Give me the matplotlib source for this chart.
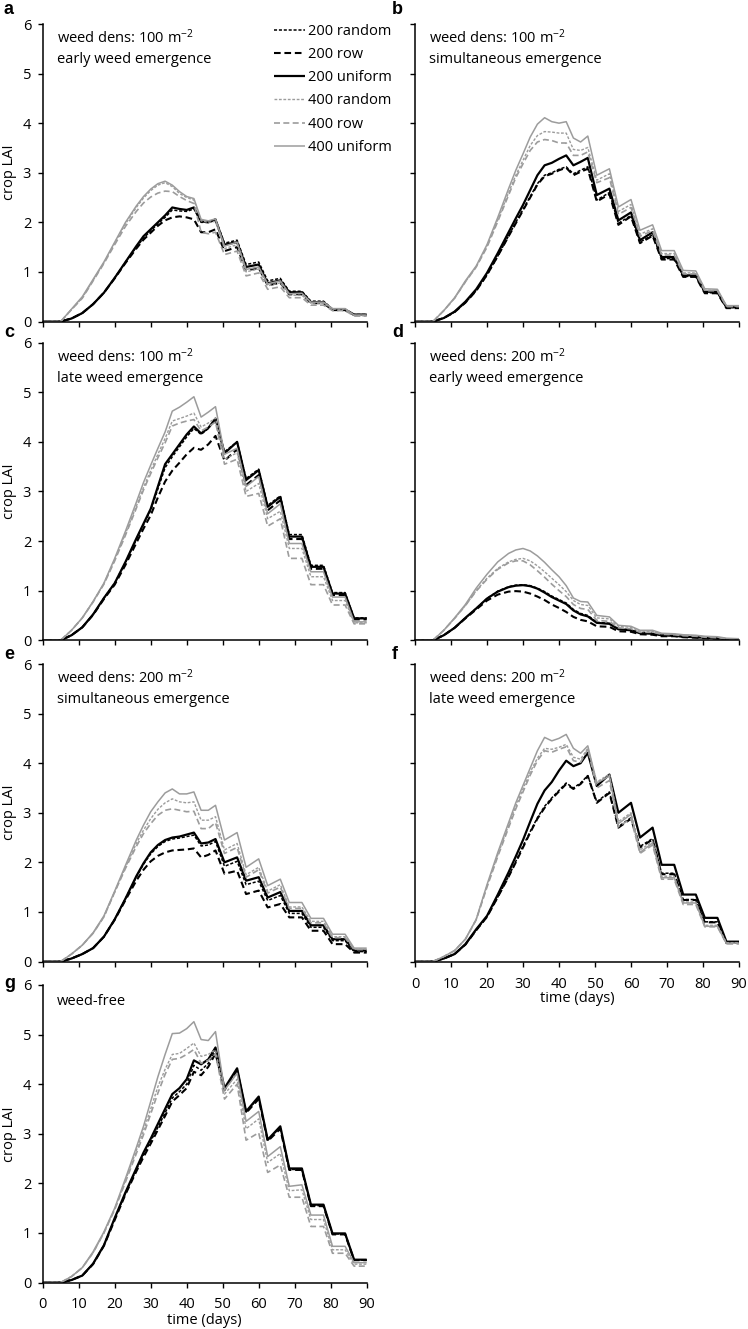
import matplotlib
matplotlib.use("Agg")
import matplotlib.pyplot as plt

plt.rcParams["font.family"] = ["Open Sans", "DejaVu Sans"]
plt.rcParams["mathtext.fontset"] = "custom"
plt.rcParams["mathtext.rm"] = "Open Sans"
plt.rcParams["mathtext.default"] = "regular"

# time axis shared by every series (days)
DAYS = [0, 5, 8, 11, 14, 17, 20, 23,
        26, 28, 30, 32, 34, 36, 38, 40, 42, 44, 46, 48,
        50.5, 54, 56.5, 60, 62.5, 66, 68.5, 72, 74.5, 78, 80.5, 84, 86.5, 90]

SERIES = ["200 random", "200 row", "200 uniform", "400 random", "400 row", "400 uniform"]

# a: weed dens 100, early emergence
A_RAND200 = [0, 0, 0.06, 0.17, 0.35, 0.58, 0.88, 1.2, 1.5, 1.68, 1.83, 1.97, 2.1, 2.25, 2.23, 2.22, 2.27, 2.0, 2.0, 2.07,
             1.58, 1.64, 1.15, 1.2, 0.82, 0.87, 0.61, 0.61, 0.41, 0.41, 0.25, 0.25, 0.14, 0.14]
A_ROW200 = [0, 0, 0.06, 0.17, 0.35, 0.58, 0.87, 1.18, 1.47, 1.65, 1.79, 1.93, 2.04, 2.1, 2.12, 2.1, 2.06, 1.8, 1.8, 1.86,
            1.42, 1.5, 1.03, 1.08, 0.73, 0.78, 0.55, 0.55, 0.37, 0.37, 0.23, 0.23, 0.13, 0.13]
A_UNI200 = [0, 0, 0.06, 0.17, 0.35, 0.58, 0.88, 1.2, 1.52, 1.72, 1.86, 2.0, 2.14, 2.3, 2.27, 2.25, 2.3, 2.02, 2.0, 2.05,
            1.55, 1.6, 1.1, 1.15, 0.77, 0.83, 0.59, 0.59, 0.39, 0.39, 0.24, 0.24, 0.14, 0.14]
A_RAND400 = [0, 0, 0.24, 0.48, 0.83, 1.18, 1.58, 1.97, 2.3, 2.49, 2.64, 2.75, 2.8, 2.72, 2.58, 2.5, 2.45, 2.03, 2.0, 2.02,
             1.47, 1.55, 1.0, 1.06, 0.72, 0.78, 0.53, 0.53, 0.37, 0.37, 0.25, 0.25, 0.12, 0.12]
A_ROW400 = [0, 0, 0.24, 0.47, 0.82, 1.17, 1.55, 1.92, 2.22, 2.39, 2.51, 2.59, 2.63, 2.62, 2.52, 2.44, 2.38, 1.8, 1.77, 1.8,
            1.35, 1.42, 0.92, 0.98, 0.65, 0.7, 0.48, 0.48, 0.33, 0.33, 0.22, 0.22, 0.11, 0.11]
A_UNI400 = [0, 0, 0.25, 0.5, 0.85, 1.2, 1.6, 2.0, 2.33, 2.52, 2.67, 2.78, 2.83, 2.75, 2.62, 2.52, 2.48, 2.06, 2.03, 2.07,
            1.52, 1.6, 1.05, 1.1, 0.76, 0.82, 0.56, 0.57, 0.39, 0.39, 0.26, 0.26, 0.13, 0.13]

# b: weed dens 100, simultaneous emergence
B_RAND200 = [0, 0, 0.07, 0.19, 0.38, 0.62, 0.94, 1.32, 1.73, 2.0, 2.26, 2.52, 2.78, 2.95, 3.0, 3.07, 3.12, 2.98, 3.05, 3.12,
             2.45, 2.6, 1.98, 2.14, 1.6, 1.75, 1.27, 1.27, 0.91, 0.91, 0.58, 0.58, 0.28, 0.28]
B_ROW200 = [0, 0, 0.07, 0.19, 0.38, 0.62, 0.94, 1.32, 1.72, 1.98, 2.24, 2.5, 2.76, 2.93, 2.98, 3.05, 3.1, 2.95, 3.02, 3.08,
            2.42, 2.57, 1.95, 2.12, 1.58, 1.73, 1.25, 1.25, 0.9, 0.9, 0.57, 0.57, 0.27, 0.27]
B_UNI200 = [0, 0, 0.07, 0.2, 0.4, 0.65, 0.98, 1.38, 1.8, 2.08, 2.35, 2.65, 2.95, 3.15, 3.2, 3.28, 3.35, 3.15, 3.22, 3.3,
            2.55, 2.68, 2.04, 2.2, 1.64, 1.8, 1.3, 1.3, 0.93, 0.93, 0.6, 0.6, 0.29, 0.29]
B_RAND400 = [0, 0, 0.22, 0.47, 0.8, 1.1, 1.52, 2.05, 2.6, 2.95, 3.25, 3.55, 3.75, 3.83, 3.82, 3.8, 3.8, 3.47, 3.45, 3.51,
             2.85, 2.98, 2.22, 2.36, 1.76, 1.87, 1.37, 1.37, 0.98, 0.98, 0.63, 0.63, 0.31, 0.31]
B_ROW400 = [0, 0, 0.22, 0.47, 0.8, 1.1, 1.5, 2.02, 2.55, 2.9, 3.18, 3.45, 3.62, 3.67, 3.65, 3.6, 3.6, 3.35, 3.35, 3.42,
            2.8, 2.9, 2.16, 2.3, 1.72, 1.83, 1.34, 1.34, 0.96, 0.96, 0.62, 0.62, 0.3, 0.3]
B_UNI400 = [0, 0, 0.22, 0.48, 0.82, 1.12, 1.55, 2.1, 2.68, 3.05, 3.38, 3.72, 3.98, 4.11, 4.03, 4.0, 4.03, 3.7, 3.62, 3.74,
            2.95, 3.08, 2.31, 2.46, 1.84, 1.95, 1.43, 1.43, 1.03, 1.02, 0.66, 0.65, 0.32, 0.32]

# c: weed dens 100, late emergence
C_RAND200 = [0, 0, 0.1, 0.26, 0.52, 0.85, 1.15, 1.57, 2.03, 2.33, 2.62, 3.05, 3.48, 3.7, 3.9, 4.1, 4.27, 4.15, 4.27, 4.45,
             3.8, 4.0, 3.26, 3.45, 2.72, 2.91, 2.13, 2.13, 1.51, 1.51, 0.96, 0.96, 0.45, 0.45]
C_ROW200 = [0, 0, 0.1, 0.26, 0.51, 0.83, 1.12, 1.52, 1.96, 2.25, 2.52, 2.88, 3.2, 3.42, 3.58, 3.75, 3.88, 3.84, 3.95, 4.12,
            3.62, 3.85, 3.13, 3.33, 2.62, 2.82, 2.04, 2.04, 1.44, 1.44, 0.91, 0.91, 0.42, 0.42]
C_UNI200 = [0, 0, 0.1, 0.26, 0.52, 0.85, 1.15, 1.58, 2.05, 2.35, 2.65, 3.1, 3.55, 3.75, 3.95, 4.15, 4.31, 4.17, 4.28, 4.47,
            3.77, 4.0, 3.23, 3.43, 2.69, 2.89, 2.09, 2.09, 1.48, 1.48, 0.94, 0.94, 0.44, 0.44]
C_RAND400 = [0, 0, 0.2, 0.45, 0.78, 1.14, 1.62, 2.15, 2.7, 3.08, 3.42, 3.75, 4.07, 4.42, 4.47, 4.52, 4.58, 4.3, 4.38, 4.48,
             3.65, 3.78, 3.0, 3.16, 2.45, 2.6, 1.85, 1.85, 1.28, 1.28, 0.8, 0.8, 0.35, 0.35]
C_ROW400 = [0, 0, 0.2, 0.45, 0.77, 1.13, 1.6, 2.12, 2.66, 3.03, 3.36, 3.68, 3.98, 4.32, 4.38, 4.42, 4.45, 4.22, 4.3, 4.4,
            3.55, 3.65, 2.9, 2.96, 2.3, 2.45, 1.65, 1.65, 1.12, 1.12, 0.71, 0.71, 0.33, 0.33]
C_UNI400 = [0, 0, 0.2, 0.45, 0.78, 1.15, 1.65, 2.2, 2.78, 3.18, 3.53, 3.87, 4.2, 4.62, 4.7, 4.8, 4.91, 4.5, 4.6, 4.71,
            3.75, 3.87, 3.1, 3.3, 2.55, 2.75, 1.95, 1.95, 1.38, 1.38, 0.87, 0.87, 0.37, 0.37]

# d: weed dens 200, early emergence
D_RAND200 = [0, 0, 0.1, 0.25, 0.45, 0.64, 0.84, 0.99, 1.08, 1.11, 1.12, 1.1, 1.05, 0.98, 0.89, 0.82, 0.75, 0.62, 0.54, 0.5,
             0.36, 0.34, 0.23, 0.21, 0.15, 0.14, 0.1, 0.09, 0.07, 0.06, 0.05, 0.04, 0.02, 0.02]
D_ROW200 = [0, 0, 0.1, 0.25, 0.44, 0.62, 0.8, 0.92, 0.98, 0.99, 0.98, 0.94, 0.88, 0.81, 0.72, 0.65, 0.57, 0.47, 0.41, 0.38,
            0.28, 0.27, 0.18, 0.17, 0.12, 0.11, 0.08, 0.08, 0.06, 0.05, 0.04, 0.03, 0.02, 0.01]
D_UNI200 = [0, 0, 0.1, 0.25, 0.45, 0.64, 0.84, 0.98, 1.07, 1.1, 1.11, 1.09, 1.04, 0.96, 0.87, 0.8, 0.73, 0.6, 0.52, 0.48,
            0.35, 0.33, 0.22, 0.2, 0.14, 0.13, 0.1, 0.09, 0.07, 0.06, 0.05, 0.04, 0.02, 0.02]
D_RAND400 = [0, 0, 0.2, 0.44, 0.7, 1.0, 1.25, 1.45, 1.58, 1.63, 1.65, 1.6, 1.5, 1.38, 1.25, 1.12, 0.98, 0.8, 0.72, 0.7,
             0.45, 0.43, 0.28, 0.26, 0.18, 0.18, 0.13, 0.12, 0.1, 0.09, 0.07, 0.06, 0.03, 0.03]
D_ROW400 = [0, 0, 0.2, 0.44, 0.7, 0.99, 1.23, 1.43, 1.56, 1.6, 1.6, 1.52, 1.4, 1.27, 1.13, 1.0, 0.88, 0.72, 0.64, 0.62,
            0.4, 0.38, 0.25, 0.23, 0.16, 0.16, 0.12, 0.11, 0.09, 0.08, 0.06, 0.05, 0.03, 0.02]
D_UNI400 = [0, 0, 0.2, 0.45, 0.72, 1.05, 1.33, 1.58, 1.75, 1.82, 1.85, 1.8, 1.7, 1.57, 1.42, 1.28, 1.1, 0.85, 0.78, 0.77,
            0.5, 0.47, 0.3, 0.28, 0.2, 0.2, 0.14, 0.13, 0.11, 0.1, 0.08, 0.07, 0.04, 0.03]

# e: weed dens 200, simultaneous emergence
E_RAND200 = [0, 0, 0.06, 0.15, 0.27, 0.5, 0.85, 1.27, 1.7, 1.96, 2.17, 2.32, 2.42, 2.47, 2.49, 2.52, 2.55, 2.33, 2.35, 2.42,
             1.92, 2.02, 1.55, 1.62, 1.23, 1.33, 0.97, 0.97, 0.69, 0.69, 0.42, 0.42, 0.2, 0.2]
E_ROW200 = [0, 0, 0.06, 0.15, 0.27, 0.5, 0.84, 1.24, 1.63, 1.85, 2.02, 2.13, 2.2, 2.24, 2.25, 2.26, 2.28, 2.1, 2.15, 2.24,
            1.77, 1.83, 1.36, 1.43, 1.09, 1.16, 0.89, 0.89, 0.62, 0.62, 0.35, 0.35, 0.18, 0.18]
E_UNI200 = [0, 0, 0.06, 0.15, 0.27, 0.5, 0.85, 1.27, 1.72, 1.98, 2.2, 2.35, 2.45, 2.5, 2.52, 2.56, 2.6, 2.38, 2.4, 2.47,
            2.0, 2.1, 1.63, 1.7, 1.29, 1.4, 1.02, 1.02, 0.73, 0.73, 0.45, 0.45, 0.22, 0.22]
E_RAND400 = [0, 0, 0.15, 0.33, 0.57, 0.9, 1.4, 1.9, 2.38, 2.65, 2.88, 3.07, 3.2, 3.28, 3.22, 3.2, 3.22, 2.85, 2.85, 2.92,
             2.25, 2.38, 1.75, 1.9, 1.42, 1.55, 1.1, 1.1, 0.81, 0.81, 0.5, 0.5, 0.25, 0.25]
E_ROW400 = [0, 0, 0.15, 0.33, 0.57, 0.9, 1.4, 1.88, 2.32, 2.58, 2.78, 2.95, 3.05, 3.08, 3.05, 3.02, 3.03, 2.68, 2.68, 2.8,
            2.18, 2.3, 1.7, 1.85, 1.38, 1.5, 1.07, 1.07, 0.78, 0.78, 0.48, 0.48, 0.24, 0.24]
E_UNI400 = [0, 0, 0.15, 0.33, 0.58, 0.92, 1.42, 1.94, 2.45, 2.75, 3.02, 3.22, 3.4, 3.48, 3.38, 3.38, 3.42, 3.05, 3.05, 3.15,
            2.45, 2.6, 1.9, 2.07, 1.53, 1.66, 1.19, 1.19, 0.87, 0.87, 0.55, 0.55, 0.27, 0.27]

# f: weed dens 200, late emergence
F_RAND200 = [0, 0, 0.06, 0.15, 0.34, 0.63, 0.9, 1.3, 1.72, 2.02, 2.33, 2.62, 2.9, 3.13, 3.3, 3.45, 3.6, 3.5, 3.6, 3.75,
             3.22, 3.42, 2.72, 2.9, 2.32, 2.48, 1.78, 1.78, 1.25, 1.25, 0.8, 0.8, 0.37, 0.37]
F_ROW200 = [0, 0, 0.06, 0.15, 0.34, 0.63, 0.9, 1.3, 1.71, 2.0, 2.3, 2.6, 2.88, 3.1, 3.28, 3.43, 3.58, 3.48, 3.58, 3.74,
            3.2, 3.4, 2.7, 2.88, 2.3, 2.46, 1.76, 1.76, 1.24, 1.24, 0.79, 0.79, 0.37, 0.37]
F_UNI200 = [0, 0, 0.06, 0.15, 0.35, 0.65, 0.92, 1.35, 1.8, 2.12, 2.45, 2.82, 3.18, 3.45, 3.62, 3.85, 4.05, 3.94, 4.0, 4.21,
            3.54, 3.77, 3.0, 3.2, 2.5, 2.7, 1.95, 1.95, 1.35, 1.35, 0.88, 0.88, 0.4, 0.4]
F_RAND400 = [0, 0, 0.1, 0.22, 0.45, 0.85, 1.52, 2.15, 2.75, 3.13, 3.48, 3.82, 4.1, 4.3, 4.28, 4.32, 4.38, 4.12, 4.08, 4.3,
             3.62, 3.78, 2.82, 3.0, 2.25, 2.42, 1.72, 1.72, 1.2, 1.2, 0.73, 0.73, 0.38, 0.38]
F_ROW400 = [0, 0, 0.1, 0.22, 0.45, 0.84, 1.5, 2.12, 2.7, 3.08, 3.42, 3.76, 4.05, 4.25, 4.22, 4.28, 4.33, 4.05, 4.02, 4.28,
            3.5, 3.65, 2.72, 2.88, 2.18, 2.35, 1.66, 1.66, 1.15, 1.15, 0.7, 0.7, 0.36, 0.36]
F_UNI400 = [0, 0, 0.1, 0.22, 0.45, 0.85, 1.55, 2.2, 2.8, 3.2, 3.55, 3.9, 4.25, 4.52, 4.45, 4.5, 4.58, 4.3, 4.2, 4.35,
            3.6, 3.74, 2.78, 2.97, 2.2, 2.39, 1.69, 1.69, 1.18, 1.18, 0.71, 0.71, 0.37, 0.37]

# g: weed-free
G_RAND200 = [0, 0, 0.05, 0.14, 0.38, 0.75, 1.28, 1.8, 2.27, 2.57, 2.85, 3.13, 3.42, 3.72, 3.85, 4.0, 4.38, 4.28, 4.42, 4.68,
             3.9, 4.3, 3.44, 3.73, 2.87, 3.13, 2.28, 2.28, 1.55, 1.55, 0.98, 0.98, 0.45, 0.45]
G_ROW200 = [0, 0, 0.05, 0.14, 0.37, 0.74, 1.26, 1.78, 2.24, 2.53, 2.8, 3.08, 3.36, 3.65, 3.78, 3.92, 4.25, 4.18, 4.35, 4.62,
            3.88, 4.28, 3.42, 3.7, 2.85, 3.1, 2.27, 2.27, 1.54, 1.54, 0.97, 0.97, 0.45, 0.45]
G_UNI200 = [0, 0, 0.05, 0.14, 0.38, 0.75, 1.3, 1.82, 2.3, 2.62, 2.9, 3.2, 3.5, 3.8, 3.92, 4.1, 4.48, 4.4, 4.5, 4.74,
            3.92, 4.32, 3.45, 3.75, 2.88, 3.15, 2.3, 2.3, 1.57, 1.57, 0.99, 0.99, 0.46, 0.46]
G_RAND400 = [0, 0, 0.12, 0.3, 0.6, 1.0, 1.48, 2.06, 2.66, 3.06, 3.5, 3.95, 4.3, 4.6, 4.62, 4.72, 4.83, 4.56, 4.6, 4.69,
             3.8, 4.1, 3.1, 3.3, 2.42, 2.6, 1.85, 1.87, 1.27, 1.27, 0.66, 0.66, 0.37, 0.37]
G_ROW400 = [0, 0, 0.12, 0.3, 0.6, 1.0, 1.47, 2.03, 2.6, 2.98, 3.4, 3.82, 4.2, 4.5, 4.52, 4.6, 4.7, 4.42, 4.48, 4.61,
            3.7, 4.0, 2.87, 3.02, 2.22, 2.37, 1.72, 1.72, 1.13, 1.13, 0.59, 0.59, 0.33, 0.33]
G_UNI400 = [0, 0, 0.12, 0.3, 0.62, 1.02, 1.5, 2.1, 2.72, 3.15, 3.65, 4.15, 4.6, 5.02, 5.03, 5.12, 5.26, 4.9, 4.88, 5.06,
            3.88, 4.22, 3.25, 3.45, 2.54, 2.74, 1.94, 1.97, 1.36, 1.36, 0.73, 0.73, 0.4, 0.4]

PANEL_LABELS = ["a", "b", "c", "d", "e", "f", "g"]
PANEL_TEXT = [
    ["weed dens: 100 m$^{-2}$", "early weed emergence"],
    ["weed dens: 100 m$^{-2}$", "simultaneous emergence"],
    ["weed dens: 100 m$^{-2}$", "late weed emergence"],
    ["weed dens: 200 m$^{-2}$", "early weed emergence"],
    ["weed dens: 200 m$^{-2}$", "simultaneous emergence"],
    ["weed dens: 200 m$^{-2}$", "late weed emergence"],
    ["weed-free"],
]
PANEL_DATA = [
    [A_RAND200, A_ROW200, A_UNI200, A_RAND400, A_ROW400, A_UNI400],
    [B_RAND200, B_ROW200, B_UNI200, B_RAND400, B_ROW400, B_UNI400],
    [C_RAND200, C_ROW200, C_UNI200, C_RAND400, C_ROW400, C_UNI400],
    [D_RAND200, D_ROW200, D_UNI200, D_RAND400, D_ROW400, D_UNI400],
    [E_RAND200, E_ROW200, E_UNI200, E_RAND400, E_ROW400, E_UNI400],
    [F_RAND200, F_ROW200, F_UNI200, F_RAND400, F_ROW400, F_UNI400],
    [G_RAND200, G_ROW200, G_UNI200, G_RAND400, G_ROW400, G_UNI400],
]

GREY = "#9c9c9c"
STYLES = [
    dict(color="black", lw=1.1, ls=(0, (2.0, 1.2))),
    dict(color="black", lw=1.5, ls=(0, (3.2, 1.8))),
    dict(color="black", lw=1.6, ls="-"),
    dict(color=GREY, lw=1.0, ls=(0, (2.0, 1.2))),
    dict(color=GREY, lw=1.2, ls=(0, (3.6, 2.0))),
    dict(color=GREY, lw=1.1, ls="-"),
]

FS = 10.5
W, H = 748, 1329
LEFT_X, RIGHT_X = 42.7, 415.0
AX_W = 324.0
ROW_TOP = [24.0, 342.7, 664.0, 985.0]
AX_H = 297.5
LABEL_BASE = [14, 337, 659, 988]


def panel(fig, i):
    row, col = divmod(i, 2)
    x0 = LEFT_X if col == 0 else RIGHT_X
    top = ROW_TOP[row]
    ax = fig.add_axes([x0 / W, 1 - (top + AX_H) / H, AX_W / W, AX_H / H])
    for vals, label, st in zip(PANEL_DATA[i], SERIES, STYLES):
        ax.plot(DAYS, vals, label=label, solid_capstyle="butt", dash_capstyle="butt", **st)
    ax.set_xlim(0, 90)
    ax.set_ylim(0, 6)
    ax.set_xticks(range(0, 91, 10))
    ax.set_yticks(range(0, 7))
    for s in ("top", "right"):
        ax.spines[s].set_visible(False)
    for s in ("left", "bottom"):
        ax.spines[s].set_linewidth(1.1)
    ax.tick_params(direction="out", length=3.3, width=1.0, labelsize=FS)
    ax.tick_params(axis="x", pad=7.5)
    ax.tick_params(axis="y", pad=5)
    if i in (5, 6):
        ax.set_xlabel("time (days)", fontsize=FS, labelpad=0)
    else:
        ax.tick_params(axis="x", labelbottom=False)
    if col == 0:
        ax.set_ylabel("crop LAI", fontsize=FS)
        ax.yaxis.set_label_coords(-0.08, 0.5)
    else:
        ax.tick_params(axis="y", labelleft=False)
    lines = PANEL_TEXT[i]
    y1 = 0.946 if len(lines) == 1 else 0.953
    ax.text(0.044, y1, lines[0], transform=ax.transAxes, fontsize=FS, va="center")
    if len(lines) > 1:
        ax.text(0.044, 0.879, lines[1], transform=ax.transAxes, fontsize=FS, va="center")
    lx = 4 if col == 0 else 392
    fig.text(lx / W, 1 - LABEL_BASE[row] / H, PANEL_LABELS[i], fontsize=13,
             fontweight="bold", family="Liberation Sans", va="baseline")
    return ax


def main():
    fig = plt.figure(figsize=(W / 100, H / 100), dpi=100)
    axes = [panel(fig, i) for i in range(7)]
    axes[0].legend(loc="upper left", bbox_to_anchor=(0.714, 1.0), frameon=False,
                   fontsize=FS, handlelength=2.15, handletextpad=0.2,
                   labelspacing=0.56, borderpad=0, borderaxespad=0)
    fig.savefig("out.png", dpi=100)


if __name__ == "__main__":
    main()
